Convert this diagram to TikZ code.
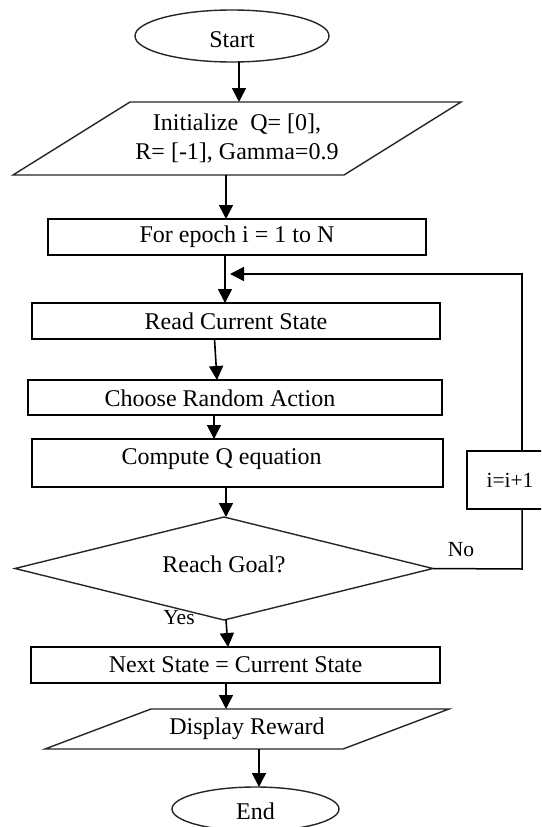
\documentclass[tikz,border=0pt]{standalone}
\usepackage{fontspec}
\setmainfont{Liberation Serif}
\usetikzlibrary{shapes.geometric,arrows.meta}
\begin{document}
\begin{tikzpicture}[x=1pt,y=-1pt,
  every node/.style={font=\fontsize{24}{29}\selectfont, inner sep=0pt, outer sep=0pt},
  box/.style={draw=black, line width=1.5pt, rectangle},
  ghost/.style={rectangle, draw=none},
  shp/.style={draw=black!85, line width=1.4pt, line join=miter},
  oval/.style={ellipse, draw=black!85, line width=1.4pt},
  arr/.style={line width=1.6pt, -{Triangle[length=14pt,width=14pt]}},
  ln/.style={line width=1.5pt},
  small/.style={font=\fontsize{21.5}{24}\selectfont}]
\useasboundingbox (0,0) rectangle (541,827);
\clip (0,0) rectangle (541,827);
\fill[white] (0,0) rectangle (541,827);

% nodes
\node[oval, minimum width=194pt, minimum height=52pt,
      label={[yshift=-4pt]center:Start}] (start) at (232,36) {};
\node[ghost, minimum width=448pt, minimum height=73pt, align=center] (init) at (237,138.5)
  {Initialize\ \ Q= [0],\\ R= [-1], Gamma=0.9};
\node[box, minimum width=378pt, minimum height=36pt] (for) at (237,237) {For epoch i = 1 to N};
\node[box, minimum width=408pt, minimum height=36pt] (read) at (236,321) {Read Current State};
\node[box, minimum width=414pt, minimum height=35pt,
      label={[xshift=-15pt,yshift=-1pt]center:Choose Random Action}] (choose) at (235,397.5) {};
\node[box, minimum width=411pt, minimum height=48pt,
      label={[xshift=-16pt,yshift=4pt]center:Compute Q equation}] (compute) at (237.5,463) {};
\node[ghost, minimum width=418pt, minimum height=103pt,
      label={[yshift=4pt]center:Reach Goal?}] (goal) at (224,568.5) {};
\node[box, minimum width=86pt, minimum height=58pt, small] (inc) at (510,480) {i=i+1};
\node[box, minimum width=409pt, minimum height=36pt] (next) at (235.5,665) {Next State = Current State};
\node[ghost, minimum width=404pt, minimum height=40pt] (display) at (247,729) {Display Reward};
\node[oval, minimum width=167pt, minimum height=44pt,
      label={[yshift=-2pt]center:End}] (end) at (255.5,809) {};

\node[small] (no) at (461,550) {No};
\node[small] (yes) at (179,618) {Yes};

% shapes drawn from their frames
\draw[shp] ([xshift=117pt]init.north west) -- (init.north east)
  -- ([xshift=-117pt]init.south east) -- (init.south west) -- cycle;
\draw[shp] (goal.north) -- (goal.east) -- (goal.south) -- (goal.west) -- cycle;
\draw[shp] ([xshift=106pt]display.north west) -- (display.north east)
  -- ([xshift=-106pt]display.south east) -- (display.south west) -- cycle;

% connectors
\coordinate (rc) at (522,569);
\coordinate (fb) at (230,274);
\draw[arr] ([xshift=7pt]start.south) -- ([xshift=2pt]init.north);
\draw[arr] ([xshift=-11pt]init.south) -- ([xshift=-11pt]for.north);
\draw[arr] ([xshift=-12pt]for.south) -- ([xshift=-11pt]read.north);
\draw[arr] ([xshift=-21.5pt]read.south) -- ([xshift=-18pt]choose.north);
\draw[arr] ([xshift=-21pt]choose.south) -- ([xshift=-23.5pt]compute.north);
\draw[arr] ([xshift=-11.5pt]compute.south) -- ([xshift=2pt]goal.north);
\draw[arr] ([xshift=2pt]goal.south) -- ([xshift=-7.5pt]next.north);
\draw[arr] ([xshift=-9.5pt]next.south) -- ([xshift=-21pt]display.north);
\draw[arr] ([xshift=12pt]display.south) -- ([xshift=3.5pt]end.north);
\draw[ln] (goal.east) -- (rc) -- (rc |- inc.south);
\draw[arr] (inc.north -| rc) |- (fb);
\end{tikzpicture}
\end{document}
